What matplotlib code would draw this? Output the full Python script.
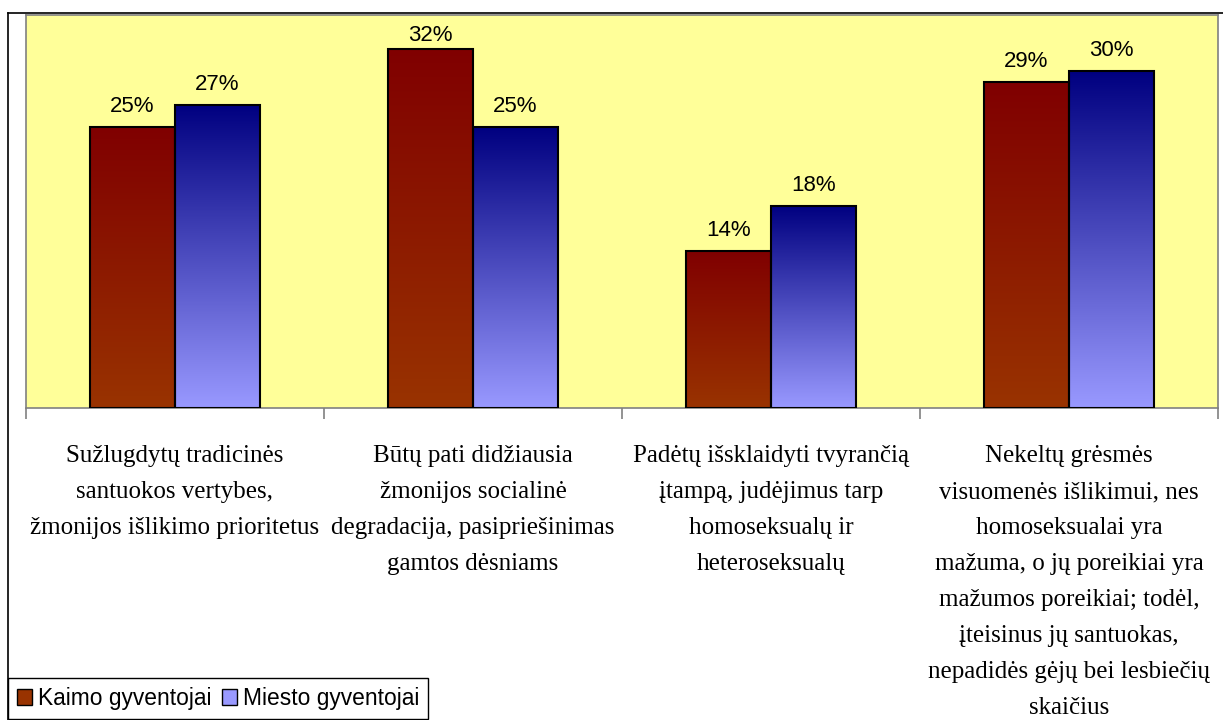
import numpy as np
import matplotlib.pyplot as plt
from matplotlib.colors import LinearSegmentedColormap
from matplotlib.patches import Rectangle
from matplotlib.lines import Line2D

categories = [
    "Sužlugdytų tradicinės\nsantuokos vertybes,\nžmonijos išlikimo prioritetus",
    "Būtų pati didžiausia\nžmonijos socialinė\ndegradacija, pasipriešinimas\ngamtos dėsniams",
    "Padėtų išsklaidyti tvyrančią\nįtampą, judėjimus tarp\nhomoseksualų ir\nheteroseksualų",
    "Nekeltų grėsmės\nvisuomenės išlikimui, nes\nhomoseksualai yra\nmažuma, o jų poreikiai yra\nmažumos poreikiai; todėl,\nįteisinus jų santuokas,\nnepadidės gėjų bei lesbiečių\nskaičius",
]
kaimo = [25, 32, 14, 29]
miesto = [27, 25, 18, 30]
series_names = ["Kaimo gyventojai", "Miesto gyventojai"]

W, H = 1223, 720
fig = plt.figure(figsize=(W / 100, H / 100), dpi=100)

def px(x0, y0, x1, y1):
    # pixel box (top-left origin) -> figure fraction rect
    return [x0 / W, 1 - y1 / H, (x1 - x0) / W, (y1 - y0) / H]

# outer chart frame
fig.add_artist(Line2D([8 / W, 8 / W], [0, 1 - 13 / H], color="black", lw=1.2))
fig.add_artist(Line2D([8 / W, 1], [1 - 13 / H, 1 - 13 / H], color="black", lw=1.2))

ax_top, ax_bot = 15, 408
ax = fig.add_axes(px(26, ax_top, 1218, ax_bot))
ax.set_facecolor("#FFFF99")
for s in ax.spines.values():
    s.set_color("#808080")
    s.set_linewidth(1.2)

red_cmap = LinearSegmentedColormap.from_list("r", ["#993300", "#800000"])
blue_cmap = LinearSegmentedColormap.from_list("b", ["#9999FF", "#000080"])
grad = np.linspace(0, 1, 256).reshape(-1, 1)

x = np.arange(len(categories))
bw = 0.285
ymax = 35
px_per_unit = (ax_bot - ax_top) / ymax

def gradient_bars(xs, vals, cmap):
    bars = ax.bar(xs, vals, bw, facecolor="none", edgecolor="black", lw=1.5, zorder=3)
    for b in bars:
        x0, w, h = b.get_x(), b.get_width(), b.get_height()
        im = ax.imshow(grad, cmap=cmap, origin="lower", aspect="auto",
                       extent=[x0, x0 + w, 0, h], zorder=2)
        im.set_clip_path(b)
    return bars

gradient_bars(x - bw / 2, kaimo, red_cmap)
gradient_bars(x + bw / 2, miesto, blue_cmap)

# value labels, pushed down when they would leave the plot area
for xi, k, m in zip(x, kaimo, miesto):
    for xc, v in ((xi - bw / 2, k), (xi + bw / 2, m)):
        room = (ymax - v) * px_per_unit - 26
        off = min(15, room) * 0.72
        ax.annotate(f"{v}%", (xc, v), xytext=(0, off), textcoords="offset points",
                    ha="center", va="baseline", fontsize=16,
                    family="Liberation Sans")

ax.set_xlim(-0.5, len(categories) - 0.5)
ax.set_ylim(0, ymax)
ax.set_yticks([])
ax.set_xticks(np.arange(len(categories) + 1) - 0.5)
ax.set_xticklabels([])
ax.tick_params(axis="x", length=8, color="#808080", width=1.2)

for xi, lab in zip(x, categories):
    ax.text(xi, -3.3, lab, ha="center", va="top", fontsize=18,
            family="Liberation Serif", linespacing=1.82)

handles = [Rectangle((0, 0), 1, 1, facecolor="#993300", edgecolor="black"),
           Rectangle((0, 0), 1, 1, facecolor="#9999FF", edgecolor="black")]
leg = fig.legend(handles, series_names, loc="lower left",
                 bbox_to_anchor=(8 / W, 1 / H), ncol=2, frameon=True,
                 fancybox=False, edgecolor="black", framealpha=1,
                 prop={"family": "Liberation Sans", "size": 16.4},
                 handlelength=0.66, handleheight=0.66, handletextpad=0.26,
                 columnspacing=0.44, borderpad=0.4, borderaxespad=0)
leg.get_frame().set_linewidth(1.0)

fig.savefig("out.png", dpi=100)
